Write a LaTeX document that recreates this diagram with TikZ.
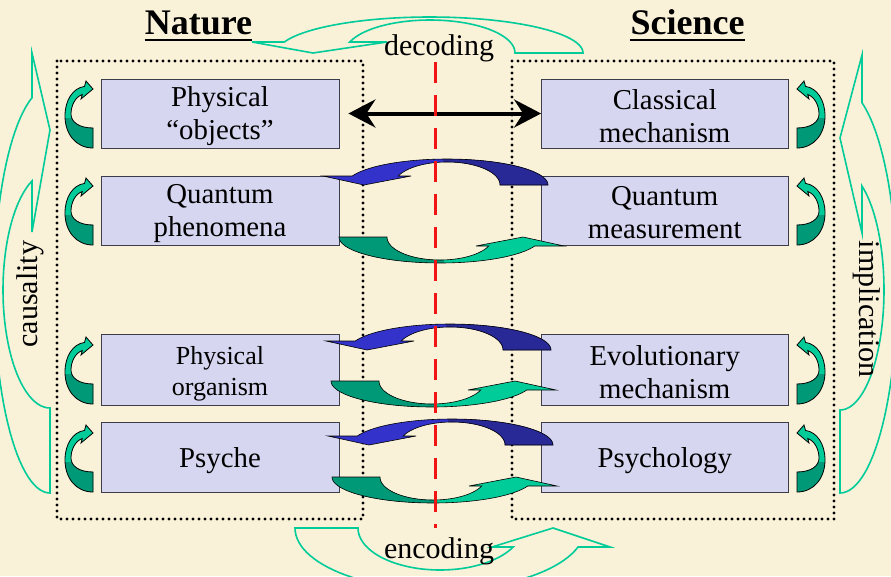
\documentclass[tikz,border=0pt]{standalone}
\usepackage{fontspec}
\setmainfont{Liberation Serif}
\usetikzlibrary{arrows.meta}
\definecolor{bg}{RGB}{250,241,217}
\definecolor{boxfill}{RGB}{214,214,240}
\definecolor{boxline}{RGB}{60,60,75}
\definecolor{tealline}{RGB}{0,204,153}
\definecolor{lgreen}{RGB}{0,204,153}
\definecolor{dgreen}{RGB}{0,153,119}
\definecolor{lblue}{RGB}{51,51,204}
\definecolor{dblue}{RGB}{40,40,150}
\definecolor{dashred}{RGB}{240,20,20}
\newcommand\boxfont{\fontsize{28.8}{33}\selectfont}
\newcommand\setcarrow[8]{\def\cRo{#1}\def\cRyo{#2}\def\cRi{#3}\def\cRyi{#4}\def\cH{#5}\def\cBo{#6}\def\cT{#7}\def\cBi{#8}}
\newcommand\carrowpath{(\cRo,0) -- plot[domain=0:-180+asin(\cH/\cRyo), samples=50, variable=\t] ({\cRo*cos(\t)},{\cRyo*sin(\t)}) -- (-\cBo,-\cH) -- (-\cT,0) -- (-\cBi,-\cH) -- plot[domain=-180+asin(\cH/\cRyi):0, samples=50, variable=\t] ({\cRi*cos(\t)},{\cRyi*sin(\t)}) -- cycle}
\newcommand\filledcarrow[3]{%
  \begin{scope}[#1]
    \fill[#2] \carrowpath;
    \begin{scope}\clip (-4,-60) rectangle (200,20); \fill[#3] \carrowpath;\end{scope}
    \draw[line width=0.6pt,black] \carrowpath;
  \end{scope}}
\newcommand\smallpath{(0,0) .. controls (-17,0) and (-28,-14) .. (-28,-32) .. controls (-28,-48) and (-20,-60) .. (-8.5,-61.6) -- (-7,-67) -- (0,-59) -- (-12,-49) -- (-10.75,-53.5) .. controls (-18,-51) and (-22,-42) .. (-22,-34) .. controls (-22,-26) and (-14,-20) .. (0,-20) -- cycle}
\newcommand\smallarrow[1]{%
  \begin{scope}[#1]
    \fill[lgreen] \smallpath;
    \begin{scope}\clip (-40,-30) rectangle (10,5); \fill[dgreen] \smallpath;\end{scope}
    \draw[line width=0.8pt] \smallpath;
  \end{scope}}
\tikzset{
  box/.style={draw=boxline, line width=0.8pt, fill=boxfill, inner sep=0pt},
  lbox/.style={box, minimum width=238pt},
  rbox/.style={box, minimum width=246.5pt},
  btext/.style={inner sep=0pt, align=center, font=\boxfont},
  dotbox/.style={line width=3.1pt, dash pattern=on 0pt off 6pt, line cap=round},
  outarrow/.style={draw=tealline, line width=1.6pt, line join=miter},
  title/.style={font=\fontsize{36}{40}\selectfont\bfseries, inner sep=0pt, anchor=base},
  label/.style={font=\fontsize{30}{32}\selectfont, inner sep=0pt}
}
\begin{document}
\begin{tikzpicture}[x=1pt,y=-1pt]
\useasboundingbox (0,0) rectangle (891,576);
\clip (0,0) rectangle (891,576);
\fill[bg] (0,0) rectangle (891,576);

% dotted frames
\draw[dotbox] (57,61) rectangle (363,519);
\draw[dotbox] (512,61) rectangle (834,519);

% boxes
\node[lbox, minimum height=69pt] (obj) at (220,113.5) {};
\node[lbox, minimum height=69pt] (qph) at (220,210.5) {};
\node[lbox, minimum height=71pt] (org) at (220,369.5) {};
\node[lbox, minimum height=70pt] (psy) at (220,457) {};
\node[rbox, minimum height=69pt] (cls) at (664.75,113.5) {};
\node[rbox, minimum height=69pt] (qme) at (664.75,210.5) {};
\node[rbox, minimum height=71pt] (evo) at (664.75,369.5) {};
\node[rbox, minimum height=70pt] (psl) at (664.75,457) {};
\node[btext] (objt) at ([yshift=-3pt]obj.center) {Physical\\“objects”};
\node[btext] (qpht) at ([yshift=-3pt]qph.center) {Quantum\\phenomena};
\node[btext, font=\fontsize{26}{31}\selectfont] (orgt) at ([yshift=-4pt]org.center) {Physical\\organism};
\node[btext] (psyt) at ([yshift=-3.5pt]psy.center) {Psyche};
\node[btext] (clst) at ([yshift=-2.5pt]cls.center) {Classical\\mechanism};
\node[btext] (qmet) at ([yshift=-2.5pt]qme.center) {Quantum\\measurement};
\node[btext] (evot) at ([yshift=-2.5pt]evo.center) {Evolutionary\\mechanism};
\node[btext] (pslt) at ([yshift=-3.5pt]psl.center) {Psychology};

% big outline arrows
\begin{scope}[shift={(430,53)}]
  \setcarrow{153}{36}{85}{33}{11}{178}{117}{43}
  \draw[outarrow] \carrowpath;
\end{scope}
\begin{scope}[shift={(440,528)},rotate=180]
  \setcarrow{145}{62}{82}{42}{19}{170}{113}{52}
  \draw[outarrow] \carrowpath;
\end{scope}
\begin{scope}[shift={(50,290)}]
  \begin{scope}[x={(0pt,-1pt)},y={(1pt,0pt)}]
    \setcarrow{203}{56}{118}{47}{18}{237}{160}{58}
    \draw[outarrow] \carrowpath;
  \end{scope}
\end{scope}
\begin{scope}[shift={(840,290)}]
  \begin{scope}[x={(0pt,-1pt)},y={(-1pt,0pt)}]
    \setcarrow{203}{57}{120}{44}{22}{235}{152}{57}
    \draw[outarrow] \carrowpath;
  \end{scope}
\end{scope}

% small side arrows
\smallarrow{shift={(93,148)}}
\smallarrow{shift={(93,245)}}
\smallarrow{shift={(93,404)}}
\smallarrow{shift={(93,492)}}
\smallarrow{shift={(797,148)},xscale=-1}
\smallarrow{shift={(797,245)},xscale=-1}
\smallarrow{shift={(797,404)},xscale=-1}
\smallarrow{shift={(797,492)},xscale=-1}

% blue / green exchange arrows
\setcarrow{101}{26}{53}{23}{9}{124}{83}{36}
\filledcarrow{shift={(447,185)}}{lblue}{dblue}
\filledcarrow{shift={(440,237)},rotate=180}{lgreen}{dgreen}
\filledcarrow{shift={(450,350)}}{lblue}{dblue}
\filledcarrow{shift={(432,381)},rotate=180}{lgreen}{dgreen}
\filledcarrow{shift={(452,445)}}{lblue}{dblue}
\filledcarrow{shift={(433,477)},rotate=180}{lgreen}{dgreen}

% black double arrow
\draw[line width=4pt, {Stealth[length=27pt,width=28pt,inset=9pt]}-{Stealth[length=27pt,width=28pt,inset=9pt]}] ([xshift=9pt]obj.east) -- (cls.west);

% red dashed divider
\coordinate (redtop) at (435,62);
\coordinate (redbot) at (435,528);
\draw[dashred, line width=3pt, dash pattern=on 21pt off 12pt] (redtop) -- (redbot);

% titles and labels
\node[title] (nature) at (198.5,34) {Nature};
\draw[line width=2.5pt] ([yshift=-6pt]nature.base west) -- ([yshift=-6pt]nature.base east);
\node[title] (science) at (687.5,34) {Science};
\draw[line width=2.5pt] ([yshift=-6pt]science.base west) -- ([yshift=-6pt]science.base east);
\node[label, anchor=base] (dec) at (439,55) {decoding};
\node[label, anchor=base] (enc) at (439,558) {encoding};
\node[label, rotate=90] (cau) at (30,294) {causality};
\node[label, rotate=-90] (imp) at (867,309) {implication};
\end{tikzpicture}
\end{document}
